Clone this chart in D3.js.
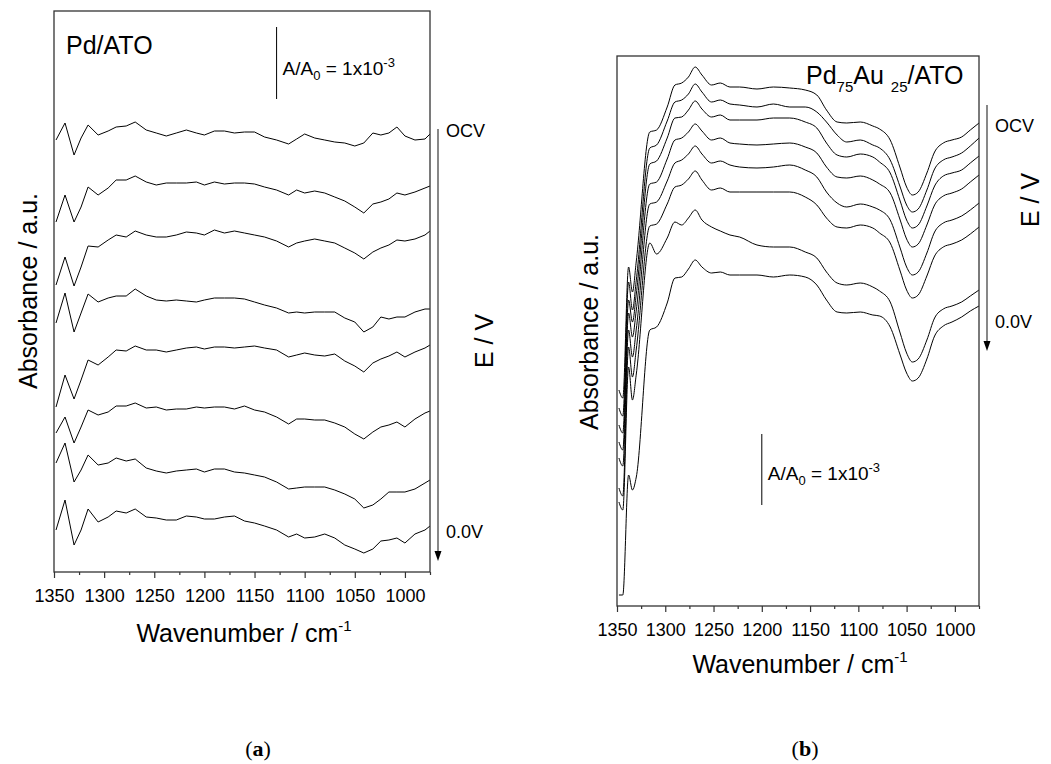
<!DOCTYPE html>
<html>
<head>
<meta charset="utf-8">
<script src="https://cdnjs.cloudflare.com/ajax/libs/d3/7.8.5/d3.min.js"></script>
<style>
  body { margin: 0; background: #fff; }
  text { font-family: "Liberation Sans", Arial, sans-serif; fill: #000; }
</style>
</head>
<body>
<script>
// wavenumber grids (cm-1)
const wnA = [1348, 1339, 1330, 1323, 1316, 1306, 1296, 1288, 1278, 1269, 1258, 1248, 1238, 1228, 1218, 1208, 1200, 1190, 1180, 1170, 1160, 1150, 1140, 1128, 1116, 1108, 1100, 1090, 1080, 1070, 1060, 1050, 1041, 1032, 1024, 1016, 1008, 1000, 990, 980, 975];
const wnB = [1348, 1344, 1338, 1334, 1330, 1316, 1309, 1298, 1290, 1283, 1276, 1269, 1262, 1252, 1243, 1233, 1223, 1205, 1188, 1171, 1155, 1143, 1133, 1122, 1112, 1098, 1085, 1078, 1067, 1057, 1050, 1044, 1038, 1029, 1021, 1012, 1003, 993, 984, 975];

// Pd/ATO spectra, stacked (a.u.), OCV first
const a1 = [432, 449, 417, 434, 447, 437, 441, 445, 446, 450, 442, 439, 436, 439, 442, 439, 437, 441, 441, 439, 440, 440, 435, 432, 428, 433, 438, 434, 432, 430, 429, 426, 429, 439, 437, 439, 445, 436, 432, 433, 438];
const a2 = [350, 377, 350, 365, 385, 377, 384, 392, 392, 396, 390, 387, 389, 389, 389, 390, 387, 390, 388, 389, 389, 388, 385, 382, 377, 382, 379, 381, 379, 375, 371, 365, 359, 368, 370, 373, 379, 377, 380, 384, 386];
const a3 = [287, 315, 286, 305, 326, 325, 332, 337, 335, 341, 337, 335, 335, 337, 340, 339, 337, 342, 339, 341, 339, 337, 335, 331, 325, 329, 331, 333, 331, 329, 324, 319, 313, 320, 324, 327, 332, 331, 333, 337, 341];
const a4 = [249, 279, 240, 259, 278, 270, 274, 276, 276, 283, 276, 272, 271, 272, 271, 270, 272, 274, 274, 274, 273, 270, 267, 264, 259, 260, 259, 260, 260, 260, 254, 250, 240, 245, 255, 253, 255, 255, 260, 263, 263];
const a5 = [165, 197, 173, 192, 212, 207, 215, 222, 221, 226, 222, 222, 220, 222, 224, 225, 223, 225, 225, 224, 225, 226, 224, 222, 215, 217, 219, 217, 216, 218, 211, 206, 200, 209, 213, 216, 220, 215, 220, 224, 227];
const a6 = [139, 155, 129, 145, 162, 157, 160, 166, 166, 169, 164, 165, 162, 163, 163, 165, 164, 165, 165, 163, 166, 162, 160, 155, 148, 153, 153, 152, 152, 149, 145, 138, 133, 140, 145, 147, 150, 145, 153, 159, 161];
const a7 = [109, 129, 90, 102, 117, 107, 109, 114, 111, 113, 104, 101, 99, 101, 102, 103, 100, 103, 103, 100, 99, 97, 95, 90, 83, 84, 85, 85, 85, 82, 78, 73, 64, 67, 73, 80, 80, 80, 83, 89, 92];
const a8 = [42, 72, 27, 42, 63, 50, 55, 61, 59, 63, 55, 54, 52, 52, 56, 55, 53, 53, 55, 56, 51, 49, 46, 42, 35, 38, 34, 35, 38, 34, 27, 23, 19, 23, 31, 32, 34, 29, 38, 42, 46];

// Pd75Au25/ATO spectra, stacked (a.u.), OCV first
const b1 = [216, 208, 339, 314, 345, 474, 476, 499, 521, 523, 529, 539, 531, 521, 523, 519, 519, 517, 519, 518, 516, 511, 496, 484, 483, 484, 480, 477, 466, 439, 419, 411, 414, 433, 454, 463, 466, 469, 476, 483];
const b2 = [198, 190, 324, 296, 326, 458, 461, 485, 504, 506, 512, 522, 514, 504, 506, 502, 501, 499, 502, 499, 499, 494, 484, 471, 464, 466, 461, 458, 446, 420, 401, 394, 397, 416, 437, 446, 449, 453, 460, 468];
const b3 = [181, 173, 306, 284, 312, 442, 445, 468, 488, 489, 496, 505, 497, 489, 491, 486, 486, 486, 488, 488, 484, 478, 463, 451, 449, 452, 449, 444, 433, 406, 386, 378, 381, 400, 420, 430, 433, 436, 443, 450];
const b4 = [164, 156, 293, 269, 296, 422, 424, 447, 466, 468, 474, 482, 475, 466, 468, 463, 462, 461, 462, 463, 459, 453, 439, 429, 428, 430, 426, 422, 413, 387, 367, 359, 362, 381, 401, 410, 413, 417, 424, 431];
const b5 = [148, 140, 276, 249, 277, 402, 404, 425, 443, 446, 452, 460, 452, 443, 445, 441, 439, 438, 439, 441, 436, 429, 414, 403, 399, 402, 399, 396, 386, 359, 339, 331, 334, 353, 374, 383, 386, 390, 396, 403];
const b6 = [118, 110, 259, 229, 257, 380, 382, 402, 419, 421, 427, 435, 426, 416, 418, 414, 414, 414, 414, 414, 409, 401, 388, 379, 378, 381, 378, 373, 363, 336, 316, 308, 311, 330, 350, 359, 362, 366, 372, 379];
const b7 = [104, 96, 239, 206, 232, 363, 352, 368, 384, 381, 388, 396, 386, 379, 375, 371, 369, 361, 359, 359, 354, 348, 334, 323, 321, 323, 319, 315, 304, 274, 253, 244, 247, 266, 288, 297, 300, 304, 310, 316];
const b8 = [11, 11, 131, 116, 129, 276, 279, 303, 328, 329, 337, 346, 339, 333, 334, 331, 331, 331, 329, 331, 329, 321, 306, 294, 293, 294, 291, 290, 279, 252, 233, 225, 228, 247, 270, 280, 284, 289, 295, 300];

const majorTicks = [1350, 1300, 1250, 1200, 1150, 1100, 1050, 1000];
const minorTicks = [1325, 1275, 1225, 1175, 1125, 1075, 1025, 975];
const xDomain = [1350, 975];

const W = 1051, H = 764;
const svg = d3.select("body").append("svg").attr("width", W).attr("height", H);
svg.append("rect").attr("width", W).attr("height", H).attr("fill", "#fff");

function drawPanel(p) {
  const x = d3.scaleLinear().domain(xDomain).range([p.left, p.right]);
  const y = d3.scaleLinear().domain([0, p.yMax]).range([p.bottom, p.top]);
  const g = svg.append("g");

  const line = d3.line()
    .x((d, i) => x(p.wn[i]))
    .y(d => y(d))
    .curve(p.curve);

  p.series.forEach(s => {
    g.append("path")
      .attr("d", line(s))
      .attr("fill", "none")
      .attr("stroke", "#000")
      .attr("stroke-width", 1);
  });

  // frame
  g.append("rect")
    .attr("x", p.left).attr("y", p.top)
    .attr("width", p.right - p.left).attr("height", p.bottom - p.top)
    .attr("fill", "none").attr("stroke", "#333").attr("stroke-width", 1.3);

  // bottom axis
  const ax = g.append("g")
    .attr("transform", `translate(0,${p.bottom})`)
    .call(d3.axisBottom(x).tickValues(majorTicks).tickSize(6).tickPadding(11).tickFormat(d3.format("d")));
  ax.select(".domain").remove();
  ax.selectAll("line").attr("stroke", "#333").attr("stroke-width", 1.2);
  ax.selectAll("text").attr("font-size", 18).attr("font-family", "Liberation Sans, Arial, sans-serif");

  const axm = g.append("g")
    .attr("transform", `translate(0,${p.bottom})`)
    .call(d3.axisBottom(x).tickValues(minorTicks).tickSize(3).tickFormat(""));
  axm.select(".domain").remove();
  axm.selectAll("line").attr("stroke", "#333").attr("stroke-width", 1.2);

  // x title
  const xt = g.append("text")
    .attr("x", (p.left + p.right) / 2 + 2).attr("y", p.bottom + p.xTitleDy)
    .attr("text-anchor", "middle").attr("font-size", 25);
  xt.append("tspan").text("Wavenumber / cm");
  xt.append("tspan").attr("font-size", 15).attr("dy", -11).text("-1");

  // y title
  g.append("text")
    .attr("transform", `translate(${p.yTitleX},${p.yTitleY}) rotate(-90)`)
    .attr("text-anchor", "middle").attr("font-size", 25)
    .text("Absorbance / a.u.");

  // scale bar
  const bx = x(p.barWn);
  g.append("line")
    .attr("x1", bx).attr("x2", bx)
    .attr("y1", y(p.barBase)).attr("y2", y(p.barBase + p.barLen))
    .attr("stroke", "#000").attr("stroke-width", 1);
  const sl = g.append("text")
    .attr("x", bx + 6).attr("y", p.barLabelY)
    .attr("font-size", 19);
  sl.append("tspan").text("A/A");
  sl.append("tspan").attr("font-size", 13).attr("dy", 5).text("0");
  sl.append("tspan").attr("dy", -5).text(" = 1x10");
  sl.append("tspan").attr("font-size", 13).attr("dy", -8).text("-3");

  // potential arrow
  const a = p.arrow;
  g.append("line")
    .attr("x1", a.x).attr("x2", a.x).attr("y1", a.y0).attr("y2", a.y1 - 8)
    .attr("stroke", "#555").attr("stroke-width", 1.4);
  g.append("path")
    .attr("d", `M${a.x - 3.5},${a.y1 - 10}L${a.x + 3.5},${a.y1 - 10}L${a.x},${a.y1}Z`)
    .attr("fill", "#000");
  g.append("text").attr("x", a.x + 8).attr("y", a.ocvY).attr("font-size", 18).text("OCV");
  g.append("text").attr("x", a.x + a.endDx).attr("y", a.endY).attr("font-size", 18).text("0.0V");
  g.append("text")
    .attr("transform", `translate(${a.evX},${a.evY}) rotate(-90)`)
    .attr("text-anchor", "middle").attr("font-size", 25)
    .text("E / V");

  return g;
}

const gA = drawPanel({
  left: 54, right: 430, top: 11, bottom: 572, yMax: 561,
  wn: wnA, series: [a1, a2, a3, a4, a5, a6, a7, a8], curve: d3.curveLinear,
  xTitleDy: 70, yTitleX: 37, yTitleY: 291,
  barWn: 1128, barBase: 473, barLen: 72, barLabelY: 75,
  arrow: {x: 438, y0: 129, y1: 561, ocvY: 137, endY: 538, endDx: 8, evX: 493, evY: 341}
});
gA.append("text").attr("x", 66).attr("y", 54).attr("font-size", 25).text("Pd/ATO");

const gB = drawPanel({
  left: 617, right: 979, top: 56, bottom: 606, yMax: 550,
  wn: wnB, series: [b1, b2, b3, b4, b5, b6, b7, b8], curve: d3.curveMonotoneX,
  xTitleDy: 67, yTitleX: 598, yTitleY: 332,
  barWn: 1200, barBase: 101, barLen: 71, barLabelY: 480,
  arrow: {x: 987, y0: 105, y1: 351, ocvY: 132, endY: 328, endDx: 8, evX: 1039, evY: 200}
});
const tb = gB.append("text").attr("x", 806).attr("y", 84).attr("font-size", 25);
tb.append("tspan").text("Pd");
tb.append("tspan").attr("font-size", 15).attr("dy", 8).text("75");
tb.append("tspan").attr("dy", -8).text("Au ");
tb.append("tspan").attr("font-size", 15).attr("dy", 8).text("25");
tb.append("tspan").attr("dy", -8).text("/ATO");

// panel captions
[["a", 258], ["b", 805]].forEach(([lab, cx]) => {
  const t = svg.append("text")
    .attr("x", cx).attr("y", 756).attr("text-anchor", "middle")
    .attr("font-size", 22).style("font-family", "Liberation Serif, serif");
  t.append("tspan").text("(");
  t.append("tspan").attr("font-weight", "bold").text(lab);
  t.append("tspan").text(")");
});
</script>
</body>
</html>
